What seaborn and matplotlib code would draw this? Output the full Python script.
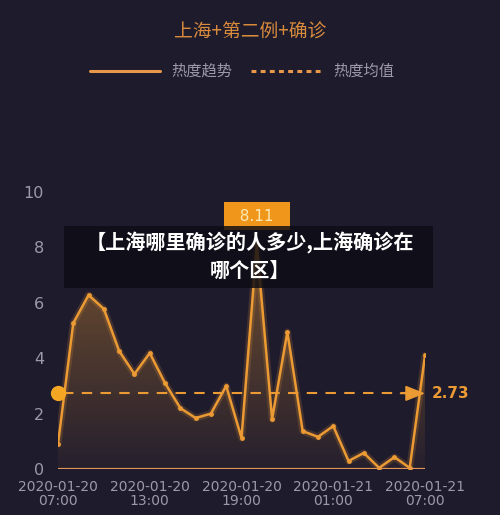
import numpy as np
import pandas as pd
import matplotlib
matplotlib.use("Agg")
import matplotlib.pyplot as plt
from matplotlib.lines import Line2D
from matplotlib.patches import Rectangle
from matplotlib.colors import LinearSegmentedColormap
import seaborn as sns

# ---- data ----
hours = list(range(25))
heat = [0.9, 5.27, 6.28, 5.78, 4.26, 3.43, 4.19, 3.1, 2.2, 1.84, 2.0, 3.0, 1.12,
        8.11, 1.8, 4.95, 1.37, 1.16, 1.55, 0.29, 0.58, 0.04, 0.43, 0.04, 4.1]
mean_value = 2.73
peak_label = "8.11"
tick_pos = [0, 6, 12, 18, 24]
tick_labels = ["2020-01-20\n07:00", "2020-01-20\n13:00", "2020-01-20\n19:00",
               "2020-01-21\n01:00", "2020-01-21\n07:00"]
y_ticks = [0, 2, 4, 6, 8, 10]
title = "上海+第二例+确诊"
legend_labels = ["热度趋势", "热度均值"]
banner_lines = ["【上海哪里确诊的人多少,上海确诊在", "哪个区】"]

df = pd.DataFrame({"hour": hours, "heat": heat})

BG = "#1e1b2d"
ORANGE = "#eb9a34"
GRAY = "#9d99ab"

sns.set_theme(style="white")
plt.rcParams["font.family"] = ["Noto Sans CJK SC", "DejaVu Sans"]

fig = plt.figure(figsize=(5.0, 5.15), dpi=100, facecolor=BG)
ax = fig.add_axes([58 / 500, 46 / 515, 367 / 500, 277 / 515])
ax.set_facecolor(BG)

# gradient fill under curve
poly = ax.fill_between(df["hour"], df["heat"], 0, color="none", lw=0)
grad = np.linspace(0, 1, 256).reshape(-1, 1)
cmap = LinearSegmentedColormap.from_list(
    "g", [(0.92, 0.60, 0.20, 0.04), (0.92, 0.60, 0.20, 0.42)])
im = ax.imshow(grad, aspect="auto", cmap=cmap, origin="lower",
               extent=[0, 24, 0, 8.2], zorder=1)
path = poly.get_paths()[0]
im.set_clip_path(path, transform=ax.transData)

# glow + line
ax.plot(df["hour"], df["heat"], color=ORANGE, lw=5, alpha=0.18, zorder=2)
sns.lineplot(data=df, x="hour", y="heat", ax=ax, color=ORANGE, lw=1.8,
             marker="o", markersize=3.5, markeredgewidth=0, zorder=3)

# baseline
ax.axhline(0, color="#e39452", lw=1.6, zorder=3)

# mean line
ax.plot([0.3, 23.2], [mean_value, mean_value], color=ORANGE, lw=1.5,
        ls=(0, (5, 4)), zorder=4)
ax.annotate("", xy=(24.0, mean_value), xytext=(22.4, mean_value),
            arrowprops=dict(arrowstyle="-|>,head_length=1.0,head_width=0.4",
                            color=ORANGE, lw=1.2, shrinkA=0, shrinkB=0),
            annotation_clip=False, zorder=5)
ax.plot([0], [mean_value], marker="o", markersize=11, color="#f5a623",
        markeredgewidth=0, clip_on=False, zorder=5)
ax.annotate(f"{mean_value:.2f}", xy=(24, mean_value), xytext=(7, 0),
            textcoords="offset pixels", va="center", ha="left",
            color=ORANGE, fontsize=11, fontweight="bold",
            family=["DejaVu Sans"], annotation_clip=False)

# peak label
ipk = int(np.argmax(heat))
ax.annotate(f"  {peak_label}  ", xy=(hours[ipk], heat[ipk]), xytext=(0, 28),
            textcoords="offset pixels", ha="center", va="center",
            color="#fbe9b5", fontsize=11, family=["DejaVu Sans"],
            bbox=dict(boxstyle="square,pad=0.42", fc="#f0961a", ec="none"),
            annotation_clip=False, zorder=6)

ax.set_xlim(0, 24)
ax.set_ylim(0, 10)
ax.set_xticks(tick_pos)
ax.set_xticklabels(tick_labels, color=GRAY, fontsize=10, linespacing=0.95,
                   family=["DejaVu Sans"])
ax.set_yticks(y_ticks)
ax.set_yticklabels([str(v) for v in y_ticks], color=GRAY, fontsize=11.5,
                   family=["DejaVu Sans"])
ax.tick_params(axis="both", length=0)
ax.tick_params(axis="y", pad=10)
ax.tick_params(axis="x", pad=8)
ax.set_xlabel("")
ax.set_ylabel("")
for s in ax.spines.values():
    s.set_visible(False)
ax.grid(False)

# title & legend
fig.text(0.5, 1 - 32 / 515, title, ha="center", va="center",
         color="#d98b3c", fontsize=13.5)
fig.add_artist(Line2D([90 / 500, 160 / 500], [1 - 71 / 515] * 2,
                      color="#e8984a", lw=2.2, transform=fig.transFigure))
fig.text(171 / 500, 1 - 71 / 515, legend_labels[0], ha="left", va="center",
         color=GRAY, fontsize=11)
fig.add_artist(Line2D([251 / 500, 321 / 500], [1 - 71 / 515] * 2,
                      color="#e8984a", lw=2.2, ls=(0, (1.6, 1.4)),
                      transform=fig.transFigure))
fig.text(333 / 500, 1 - 71 / 515, legend_labels[1], ha="left", va="center",
         color=GRAY, fontsize=11)

# overlay banner
fig.add_artist(Rectangle((64 / 500, 1 - 288 / 515), 369 / 500, 62 / 515,
                         transform=fig.transFigure, fc="#0d0c14", alpha=0.82,
                         ec="none", zorder=10))
fig.text(0.5, 1 - 243 / 515, banner_lines[0], ha="center", va="center",
         color="white", fontsize=14.5, fontweight="bold", zorder=11)
fig.text(0.5, 1 - 270 / 515, banner_lines[1], ha="center", va="center",
         color="white", fontsize=14.5, fontweight="bold", zorder=11)

fig.savefig("out.png", dpi=100, facecolor=BG)
